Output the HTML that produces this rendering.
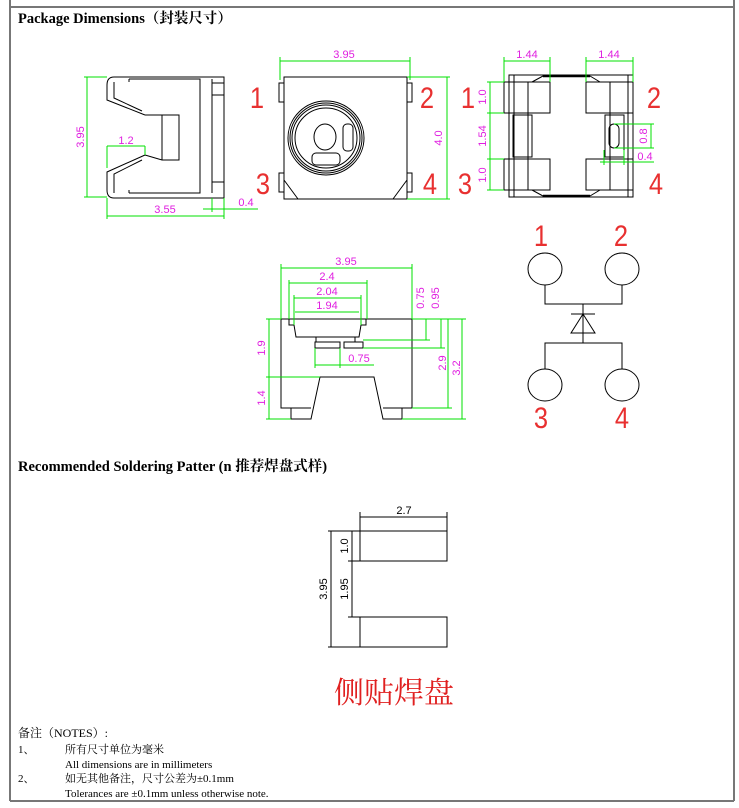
<!DOCTYPE html>
<html><head><meta charset="utf-8"><style>
html,body{margin:0;padding:0;background:#fff;}
svg{display:block;}
.g{stroke:#00e000;stroke-width:1;fill:none}
.k{stroke:#000;stroke-width:1;fill:none}
.m{fill:#e020e0;font-family:"Liberation Sans",sans-serif;font-size:11px}
.r{fill:#e83030;font-family:"Liberation Sans",sans-serif;font-size:30px}
.h{font-family:"Liberation Serif","Noto Serif CJK SC",serif;font-weight:bold;font-size:14.5px;fill:#000}
.n{font-family:"Liberation Serif","Noto Serif CJK SC",serif;font-size:11px;fill:#000}
</style></head><body>
<svg width="739" height="808" viewBox="0 0 739 808" xmlns="http://www.w3.org/2000/svg">
<g stroke="#777" stroke-width="2" fill="none">
<line x1="10" y1="0" x2="10" y2="801"/><line x1="734" y1="0" x2="734" y2="801"/>
<line x1="10" y1="7" x2="734" y2="7"/><line x1="10" y1="801" x2="734" y2="801"/>
</g>
<text x="18" y="23" class="h">Package Dimensions（封装尺寸）</text>

<g class="k">
<path d="M114,77 H224 V198 H114 Q107,198 107,190 V172 L145,155 V147 M107,85 Q107,77 114,77"/>
<path d="M107,85 V100 L145,115"/>
<path d="M114,82 V98 L142,111 M114,193 V174 L142,160"/>
<path d="M129,79 H200 V193 H129"/>
<path d="M129,79 V82 M129,193 V190"/>
<path d="M145,115 H162 L179,115 V160 H162 L145,155 M162,115 V160"/>
<path d="M212,79 V193 M212,83 H224 M212,95 H224 M212,182 H224"/>
</g>
<g class="g">
<line x1="87" y1="77" x2="87" y2="197"/><line x1="84" y1="77" x2="107" y2="77"/><line x1="84" y1="197" x2="107" y2="197"/>
<line x1="107" y1="146" x2="145" y2="146"/><line x1="107" y1="146" x2="107" y2="168"/><line x1="145" y1="146" x2="145" y2="155"/>
<line x1="107" y1="216" x2="224" y2="216"/><line x1="107" y1="198" x2="107" y2="219"/><line x1="224" y1="198" x2="224" y2="219"/>
<line x1="212" y1="198" x2="212" y2="212"/><line x1="203" y1="209" x2="258" y2="209"/>
</g>
<text class="m" transform="translate(84,137) rotate(-90)" text-anchor="middle">3.95</text>
<text class="m" x="126" y="144" text-anchor="middle">1.2</text>
<text class="m" x="165" y="213" text-anchor="middle">3.55</text>
<text class="m" x="246" y="206" text-anchor="middle">0.4</text>

<g class="k">
<path d="M284,77 H407 V199 H284 Z"/>
<path d="M279,83 H284 V102 H279 Z M279,173 H284 V192 H279 Z M407,83 H412 V102 H407 Z M407,173 H412 V192 H407 Z"/>
<path d="M284,180 L298,199 M407,180 L393,199"/>
<ellipse cx="326" cy="138" rx="38" ry="37"/>
<ellipse cx="326" cy="138" rx="36" ry="35"/>
<ellipse cx="326" cy="138" rx="34" ry="33"/>
<ellipse cx="326" cy="138" rx="31" ry="30"/>
<ellipse cx="325" cy="137" rx="11" ry="13"/>
<rect x="343" y="124" width="10" height="27" rx="4"/>
<rect x="312" y="153" width="28" height="12" rx="4"/>
</g>
<g class="g">
<line x1="280" y1="61" x2="410" y2="61"/><line x1="280" y1="57" x2="280" y2="80"/><line x1="410" y1="57" x2="410" y2="80"/>
<line x1="447" y1="77" x2="447" y2="199"/><line x1="407" y1="77" x2="450" y2="77"/><line x1="407" y1="199" x2="450" y2="199"/>
</g>
<text class="m" x="344" y="58" text-anchor="middle">3.95</text>
<text class="m" transform="translate(442,138) rotate(-90)" text-anchor="middle">4.0</text>
<text class="r" transform="translate(257,108) scale(0.85,1)" text-anchor="middle">1</text>
<text class="r" transform="translate(427,108) scale(0.85,1)" text-anchor="middle">2</text>
<text class="r" transform="translate(263,194) scale(0.85,1)" text-anchor="middle">3</text>
<text class="r" transform="translate(430,194) scale(0.85,1)" text-anchor="middle">4</text>

<g class="k">
<path d="M509,75 H633 V197 H509 Z"/>
<path d="M514,75 V197 M628,75 V197"/>
<path d="M504,82 H550 V113 H504 Z M504,159 H550 V190 H504 Z"/>
<path d="M586,82 H633 V113 H586 Z M586,159 H633 V190 H586 Z"/>
<path d="M528,82 V190 M610,82 V190"/>
<path d="M513,115 H532 V157 H513 Z M605,115 H624 V157 H605 Z"/>
<rect x="609" y="124" width="10" height="24" rx="5"/>
<path d="M543,76 H590 M543,196 H590" stroke-width="2.5"/>
<path d="M532,82 L543,76 M600,82 L590,76 M532,190 L543,196 M600,190 L590,196"/>
</g>
<g class="g">
<line x1="504" y1="61" x2="550" y2="61"/><line x1="504" y1="57" x2="504" y2="82"/><line x1="550" y1="57" x2="550" y2="82"/>
<line x1="586" y1="61" x2="633" y2="61"/><line x1="586" y1="57" x2="586" y2="82"/><line x1="633" y1="57" x2="633" y2="82"/>
<line x1="490" y1="82" x2="490" y2="190"/>
<line x1="487" y1="82" x2="504" y2="82"/><line x1="487" y1="113" x2="504" y2="113"/><line x1="487" y1="159" x2="504" y2="159"/><line x1="487" y1="190" x2="504" y2="190"/>
<line x1="651" y1="124" x2="651" y2="148"/><line x1="614" y1="124" x2="654" y2="124"/><line x1="614" y1="148" x2="654" y2="148"/>
<line x1="600" y1="162" x2="654" y2="162"/><line x1="604" y1="150" x2="604" y2="165"/><line x1="624" y1="150" x2="624" y2="165"/>
</g>
<text class="m" x="527" y="58" text-anchor="middle">1.44</text>
<text class="m" x="609" y="58" text-anchor="middle">1.44</text>
<text class="m" transform="translate(486,97) rotate(-90)" text-anchor="middle">1.0</text>
<text class="m" transform="translate(486,136) rotate(-90)" text-anchor="middle">1.54</text>
<text class="m" transform="translate(486,175) rotate(-90)" text-anchor="middle">1.0</text>
<text class="m" transform="translate(647,136) rotate(-90)" text-anchor="middle">0.8</text>
<text class="m" x="645" y="160" text-anchor="middle">0.4</text>
<text class="r" transform="translate(468,108) scale(0.85,1)" text-anchor="middle">1</text>
<text class="r" transform="translate(654,108) scale(0.85,1)" text-anchor="middle">2</text>
<text class="r" transform="translate(465,194) scale(0.85,1)" text-anchor="middle">3</text>
<text class="r" transform="translate(656,194) scale(0.85,1)" text-anchor="middle">4</text>

<g class="k">
<path d="M281,319 H412 V408 H402 V419 H383 L374,377 H320 L311,419 H291 V408 H281 Z"/>
<path d="M289,319 V325 H294 L296,337 H359 L361,325 H366 V319"/>
<path d="M291,408 H311 M383,408 H402"/>
<rect x="315" y="342" width="25" height="6"/><rect x="344" y="342" width="19" height="6"/>
<path d="M316,337 V342 M355,337 V342"/>
</g>
<g class="g">
<line x1="281" y1="268" x2="412" y2="268"/><line x1="281" y1="264" x2="281" y2="319"/><line x1="412" y1="264" x2="412" y2="319"/>
<line x1="289" y1="283" x2="367" y2="283"/><line x1="289" y1="280" x2="289" y2="319"/><line x1="367" y1="280" x2="367" y2="319"/>
<line x1="294" y1="298" x2="361" y2="298"/><line x1="294" y1="295" x2="294" y2="325"/><line x1="361" y1="295" x2="361" y2="325"/>
<line x1="295" y1="312" x2="359" y2="312"/>
<line x1="315" y1="365" x2="374" y2="365"/><line x1="315" y1="348" x2="315" y2="368"/><line x1="340" y1="348" x2="340" y2="368"/>
<line x1="269" y1="319" x2="269" y2="419"/><line x1="266" y1="319" x2="281" y2="319"/><line x1="266" y1="377" x2="320" y2="377"/><line x1="266" y1="419" x2="291" y2="419"/>
<line x1="412" y1="319" x2="466" y2="319"/>
<line x1="426" y1="319" x2="426" y2="340"/><line x1="363" y1="340" x2="430" y2="340"/>
<line x1="441" y1="319" x2="441" y2="348"/><line x1="363" y1="348" x2="445" y2="348"/>
<line x1="448" y1="319" x2="448" y2="408"/><line x1="412" y1="408" x2="452" y2="408"/>
<line x1="462" y1="319" x2="462" y2="419"/><line x1="402" y1="419" x2="466" y2="419"/>
</g>
<text class="m" x="346" y="265" text-anchor="middle">3.95</text>
<text class="m" x="327" y="280" text-anchor="middle">2.4</text>
<text class="m" x="327" y="295" text-anchor="middle">2.04</text>
<text class="m" x="327" y="309" text-anchor="middle">1.94</text>
<text class="m" x="359" y="362" text-anchor="middle">0.75</text>
<text class="m" transform="translate(265,348) rotate(-90)" text-anchor="middle">1.9</text>
<text class="m" transform="translate(265,398) rotate(-90)" text-anchor="middle">1.4</text>
<text class="m" transform="translate(424,298) rotate(-90)" text-anchor="middle">0.75</text>
<text class="m" transform="translate(439,298) rotate(-90)" text-anchor="middle">0.95</text>
<text class="m" transform="translate(446,363) rotate(-90)" text-anchor="middle">2.9</text>
<text class="m" transform="translate(460,368) rotate(-90)" text-anchor="middle">3.2</text>

<g class="k">
<ellipse cx="545" cy="269" rx="17" ry="16"/><ellipse cx="622" cy="269" rx="17" ry="16"/>
<ellipse cx="545" cy="385" rx="17" ry="16"/><ellipse cx="622" cy="385" rx="17" ry="16"/>
<path d="M545,285 V304 H622 V285 M583,304 V333 M571,314 H595 M583,314 L571,333 H595 Z M583,333 V343 M545,369 V343 H622 V369"/>
</g>
<text class="r" transform="translate(541,246) scale(0.85,1)" text-anchor="middle">1</text>
<text class="r" transform="translate(621,246) scale(0.85,1)" text-anchor="middle">2</text>
<text class="r" transform="translate(541,428) scale(0.85,1)" text-anchor="middle">3</text>
<text class="r" transform="translate(622,428) scale(0.85,1)" text-anchor="middle">4</text>

<text x="18" y="471" class="h">Recommended Soldering Patter (n 推荐焊盘式样)</text>
<g class="k">
<rect x="360" y="531" width="87" height="30"/><rect x="360" y="617" width="87" height="30"/>
<line x1="360" y1="517" x2="447" y2="517"/><line x1="360" y1="512" x2="360" y2="531"/><line x1="447" y1="512" x2="447" y2="531"/>
<line x1="331" y1="531" x2="331" y2="647"/><line x1="328" y1="531" x2="360" y2="531"/><line x1="328" y1="647" x2="360" y2="647"/>
<line x1="352" y1="531" x2="352" y2="617"/><line x1="348" y1="561" x2="360" y2="561"/><line x1="348" y1="617" x2="360" y2="617"/>
</g>
<text class="n" style="font-family:'Liberation Sans',sans-serif" x="404" y="514" text-anchor="middle">2.7</text>
<text class="n" style="font-family:'Liberation Sans',sans-serif" transform="translate(327,589) rotate(-90)" text-anchor="middle">3.95</text>
<text class="n" style="font-family:'Liberation Sans',sans-serif" transform="translate(348,546) rotate(-90)" text-anchor="middle">1.0</text>
<text class="n" style="font-family:'Liberation Sans',sans-serif" transform="translate(348,589) rotate(-90)" text-anchor="middle">1.95</text>
<text x="394" y="703" text-anchor="middle" style="font-family:'Noto Serif CJK SC',serif;font-weight:normal;font-size:30px;fill:#e02020">侧贴焊盘</text>

<text class="n" x="18" y="737" style="font-size:12px">备注（NOTES）:</text>
<text class="n" x="18" y="753">1、</text>
<text class="n" x="65" y="753">所有尺寸单位为毫米</text>
<text class="n" x="65" y="768">All dimensions are in millimeters</text>
<text class="n" x="18" y="782">2、</text>
<text class="n" x="65" y="782">如无其他备注，尺寸公差为±0.1mm</text>
<text class="n" x="65" y="797">Tolerances are ±0.1mm unless otherwise note.</text>
</svg>
</body></html>
